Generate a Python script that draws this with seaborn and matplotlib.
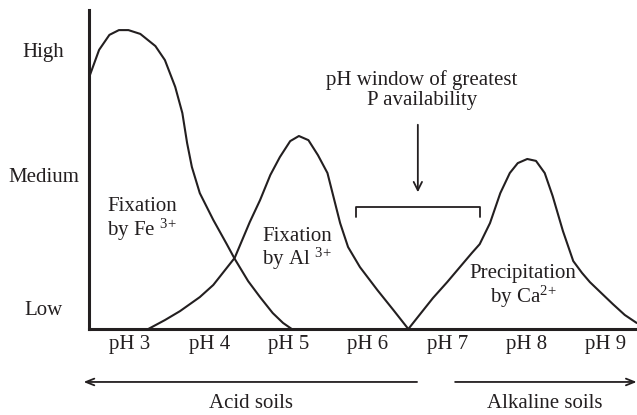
import seaborn as sns
import matplotlib.pyplot as plt
import pandas as pd

sns.set_theme(style="white")
plt.rcParams["font.family"] = ["Liberation Serif", "DejaVu Serif"]
plt.rcParams["mathtext.fontset"] = "custom"
plt.rcParams["mathtext.rm"] = "Liberation Serif"
plt.rcParams["mathtext.default"] = "regular"

INK = "#231f20"
FS = 15

# curves (pH, relative availability 0-100)
fe_ph = [2.49, 2.61, 2.74, 2.86, 2.98, 3.13, 3.32, 3.44, 3.57, 3.66, 3.72, 3.78,
         3.88, 4.05, 4.22, 4.32, 4.49, 4.64, 4.80, 4.93, 5.04]
fe_val = [79.3, 87.5, 92.2, 93.7, 93.7, 92.5, 88.7, 84.3, 75.9, 67.7, 58.3, 50.8,
          42.6, 34.2, 26.6, 22.0, 15.0, 10.0, 5.0, 1.9, 0.0]

al_ph = [3.23, 3.44, 3.63, 3.88, 4.05, 4.32, 4.51, 4.64, 4.77, 4.89, 5.02, 5.13,
         5.25, 5.37, 5.49, 5.65, 5.75, 5.90, 6.12, 6.32, 6.51]
al_val = [0.0, 2.8, 5.6, 10.0, 13.8, 22.3, 33.5, 40.4, 48.3, 53.9, 58.9, 60.5,
          59.2, 54.5, 48.9, 33.2, 25.7, 19.4, 12.2, 6.0, 0.0]

ca_ph = [6.51, 6.66, 6.82, 7.00, 7.16, 7.31, 7.41, 7.54, 7.67, 7.79, 7.89, 8.01,
         8.12, 8.23, 8.33, 8.46, 8.59, 8.70, 8.80, 8.93, 9.09, 9.24, 9.39]
ca_val = [0.0, 4.7, 9.7, 14.7, 19.4, 23.8, 26.6, 33.2, 42.6, 48.9, 52.0, 53.3,
          52.7, 48.9, 41.7, 30.7, 21.3, 17.6, 14.7, 11.6, 7.8, 4.4, 1.9]

x_ticks = [3, 4, 5, 6, 7, 8, 9]
x_labels = ["pH 3", "pH 4", "pH 5", "pH 6", "pH 7", "pH 8", "pH 9"]
y_ticks = [6.6, 48.3, 87.5]
y_labels = ["Low", "Medium", "High"]

# annotation geometry
bracket_x = (5.85, 7.41)
bracket_y = (35.1, 38.2)
window_arrow = (6.63, 64.9, 42.0)

fig = plt.figure(figsize=(6.37, 4.15), dpi=100)
ax = fig.add_axes([0.1405, 0.2072, 0.8595, 0.7687])

curves = pd.concat([
    pd.DataFrame({"ph": fe_ph, "val": fe_val, "ion": "Fe"}),
    pd.DataFrame({"ph": al_ph, "val": al_val, "ion": "Al"}),
    pd.DataFrame({"ph": ca_ph, "val": ca_val, "ion": "Ca"}),
])
sns.lineplot(data=curves, x="ph", y="val", units="ion", estimator=None,
             sort=False, color=INK, lw=1.5, solid_joinstyle="round", ax=ax)

ax.set_xlim(2.489, 9.394)
ax.set_ylim(0, 100)
ax.set_xlabel("")
ax.set_ylabel("")
ax.set_xticks(x_ticks, x_labels, fontsize=FS, color=INK)
ax.set_yticks(y_ticks, y_labels, fontsize=FS, color=INK)
for lab in ax.get_yticklabels():
    lab.set_horizontalalignment("center")
ax.tick_params(axis="y", length=0, pad=33)
ax.tick_params(axis="x", length=0, pad=4)
for s in ["top", "right"]:
    ax.spines[s].set_visible(False)
for s in ["left", "bottom"]:
    ax.spines[s].set_color(INK)
    ax.spines[s].set_linewidth(2.2)

# curve labels
ax.text(3.15, 34.2, "Fixation\nby Fe $^{3}$$^{+}$", ha="center", va="center",
        fontsize=FS, color=INK, linespacing=1.0)
ax.text(5.11, 24.8, "Fixation\nby Al $^{3}$$^{+}$", ha="center", va="center",
        fontsize=FS, color=INK, linespacing=1.0)
ax.text(7.96, 13.2, "Precipitation\nby Ca$^{2}$$^{+}$", ha="center", va="center",
        fontsize=FS, color=INK, linespacing=1.0)

# window of greatest availability
ax.text(6.68, 74.9, "pH window of greatest\nP availability", ha="center",
        va="center", fontsize=FS, color=INK, linespacing=1.05)
ax.annotate("", xy=(window_arrow[0], window_arrow[2]),
            xytext=(window_arrow[0], window_arrow[1]),
            arrowprops=dict(arrowstyle="->,head_length=0.5,head_width=0.25",
                            color=INK, lw=1.3))
ax.plot([bracket_x[0], bracket_x[0], bracket_x[1], bracket_x[1]],
        [bracket_y[0], bracket_y[1], bracket_y[1], bracket_y[0]],
        color=INK, lw=1.3)

# acid / alkaline arrows under the axis
tr = ("data", "axes fraction")
ax.annotate("", xy=(2.414, -0.166), xytext=(6.62, -0.166), xycoords=tr,
            textcoords=tr, annotation_clip=False,
            arrowprops=dict(arrowstyle="->,head_length=0.5,head_width=0.2",
                            color=INK, lw=1.3, shrinkA=0, shrinkB=0))
ax.annotate("", xy=(9.39, -0.166), xytext=(7.10, -0.166), xycoords=tr,
            textcoords=tr, annotation_clip=False,
            arrowprops=dict(arrowstyle="->,head_length=0.5,head_width=0.2",
                            color=INK, lw=1.3, shrinkA=0, shrinkB=0))
ax.text(4.52, -0.235, "Acid soils", transform=ax.get_xaxis_transform(),
        ha="center", va="center", fontsize=FS, color=INK)
ax.text(8.23, -0.235, "Alkaline soils", transform=ax.get_xaxis_transform(),
        ha="center", va="center", fontsize=FS, color=INK)

fig.savefig("out.png", dpi=100)
